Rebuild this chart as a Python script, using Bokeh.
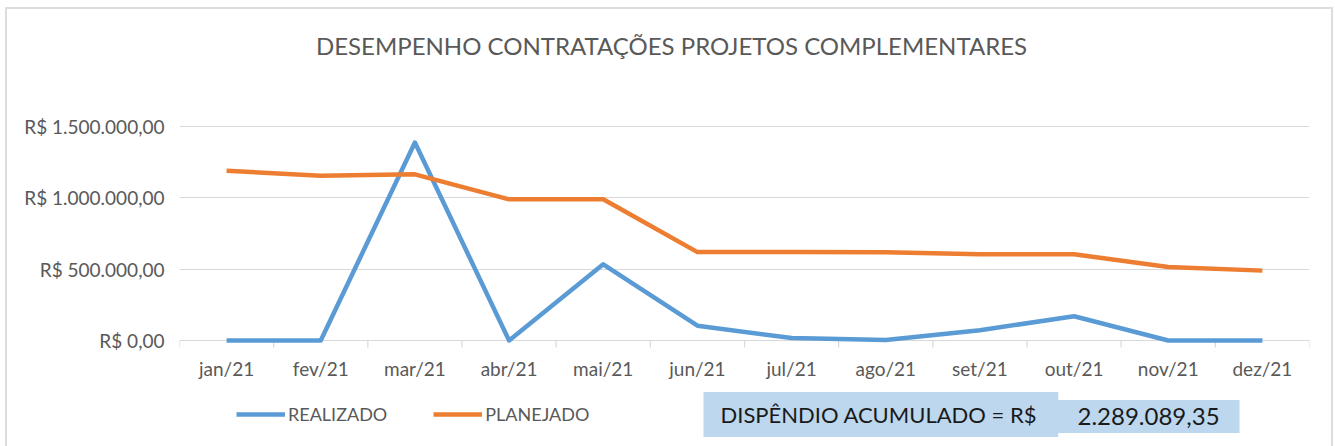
from bokeh.plotting import figure
from bokeh.models import Range1d, FixedTicker, Label, Legend, LegendItem, ColumnDataSource, InlineStyleSheet
from bokeh.core.properties import value
from bokeh.embed import file_html
from bokeh.resources import INLINE

months = ["jan/21", "fev/21", "mar/21", "abr/21", "mai/21", "jun/21",
          "jul/21", "ago/21", "set/21", "out/21", "nov/21", "dez/21"]
realizado = [0, 0, 1388000, 0, 534000, 104000, 17000, 4000, 72000, 170000, 0, 0]
planejado = [1190000, 1155000, 1165000, 990000, 990000, 620000,
             620000, 618000, 605000, 605000, 515000, 490000]
y_ticks = [0, 500000, 1000000, 1500000]
y_tick_labels = ["R$ 0,00", "R$ 500.000,00", "R$ 1.000.000,00", "R$ 1.500.000,00"]
title_text = "DESEMPENHO CONTRATAÇÕES PROJETOS COMPLEMENTARES"
total_label = "DISPÊNDIO ACUMULADO = R$"
total_value = "2.289.089,35"

FONT = "Lato"
GRAY = "#595959"
BLUE = "#5b9bd5"
ORANGE = "#ed7d31"
LIGHT = "#d9d9d9"
BOX = "#bdd7ee"

W, H = 1335, 446
FRAME_L, FRAME_R = 179, 1309          # plot area (page px)
ZERO_Y, PX_PER_UNIT = 340, 142.6e-6   # y=0 position, px per R$
n = len(months)
PX_PER_CAT = (FRAME_R - FRAME_L) / n


def px_x(px):
    return (px - FRAME_L) / PX_PER_CAT - 0.5


def px_y(py):
    return (ZERO_Y - py) / PX_PER_UNIT


xs = list(range(n))
src = ColumnDataSource(dict(x=xs, realizado=realizado, planejado=planejado, month=months))

border_css = InlineStyleSheet(css="""
:host::after {
  content: ""; position: absolute; left: 5px; top: 7px; right: 2px; bottom: -20px;
  border: 2px solid #dcdcdc; pointer-events: none; z-index: 10;
}
""")

p = figure(width=W, height=H, output_backend="svg", toolbar_location=None,
           x_range=Range1d(-0.5, n - 0.5), y_range=Range1d(px_y(H), px_y(0)),
           x_axis_location=None,
           min_border_left=FRAME_L, min_border_right=W - FRAME_R,
           min_border_top=0, min_border_bottom=0)
p.stylesheets = [border_css]
p.outline_line_color = None
p.background_fill_color = "white"
p.border_fill_color = "white"

# y axis
ya = p.yaxis[0]
ya.ticker = FixedTicker(ticks=y_ticks)
ya.major_label_overrides = {t: l for t, l in zip(y_ticks, y_tick_labels)}
ya.axis_line_color = None
ya.major_tick_line_color = None
ya.minor_tick_line_color = None
ya.major_tick_in = 0
ya.major_tick_out = 0
ya.major_label_standoff = 15
ya.major_label_text_font = FONT
ya.major_label_text_font_size = "19px"
ya.major_label_text_color = GRAY

p.xgrid.grid_line_color = None
p.ygrid.grid_line_color = LIGHT
p.ygrid.grid_line_width = 1.2
p.ygrid.ticker = FixedTicker(ticks=y_ticks)

# category boundary tick marks and month labels (category axis)
bounds = [i - 0.5 for i in range(n + 1)]
p.segment(x0=bounds, y0=[0] * len(bounds), x1=bounds, y1=[px_y(ZERO_Y + 7)] * len(bounds),
          line_color=LIGHT, line_width=1.2)
p.text(x="x", y=px_y(368), text="month", source=src, text_align="center",
       text_baseline="middle", text_font=value(FONT), text_font_size="19px",
       text_color=GRAY)

r1 = p.line("x", "realizado", source=src, line_color=BLUE, line_width=4.5, line_join="round")
r2 = p.line("x", "planejado", source=src, line_color=ORANGE, line_width=4.5, line_join="round")

legend = Legend(items=[LegendItem(label="REALIZADO", renderers=[r1]),
                       LegendItem(label="PLANEJADO", renderers=[r2])],
                orientation="horizontal", location=(236 - FRAME_L, H - 425),
                border_line_color=None, background_fill_alpha=0,
                padding=0, margin=0, glyph_width=49, glyph_height=20,
                label_standoff=3, spacing=46,
                label_text_font=FONT, label_text_font_size="18px",
                label_text_color=GRAY)
p.add_layout(legend)

p.add_layout(Label(x=px_x(671), y=px_y(45), text=title_text, text_align="center",
                   text_baseline="middle", text_font=FONT, text_font_size="24px",
                   text_color=GRAY))

p.add_layout(Label(x=px_x(703), y=px_y(414), text=total_label, text_align="left",
                   text_baseline="middle", text_font=FONT, text_font_size="22px",
                   text_color="#1a1a1a", background_fill_color=BOX,
                   padding=dict(left=17, right=21, top=9, bottom=9)))
p.add_layout(Label(x=px_x(1057), y=px_y(416), text=total_value, text_align="left",
                   text_baseline="middle", text_font=FONT, text_font_size="24px",
                   text_color="#1a1a1a", background_fill_color=BOX,
                   padding=dict(left=20, right=20, top=8, bottom=8)))

open("out.html", "w").write(file_html(p, INLINE))
